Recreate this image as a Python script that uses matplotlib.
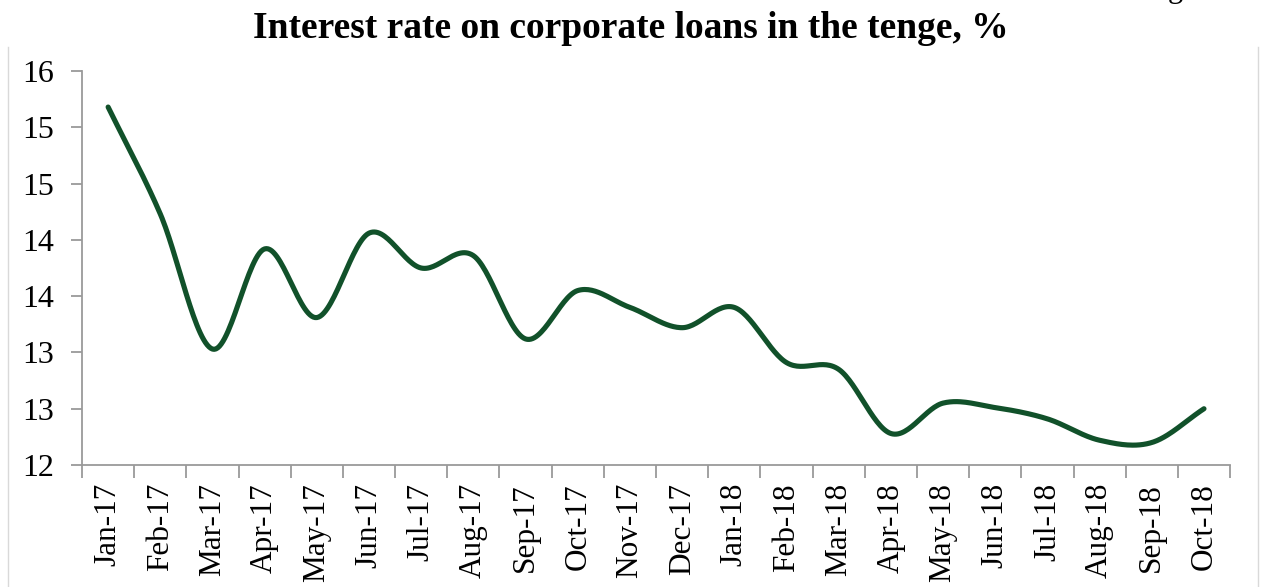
import numpy as np
import matplotlib.pyplot as plt
from matplotlib.lines import Line2D

months = ["Jan-17", "Feb-17", "Mar-17", "Apr-17", "May-17", "Jun-17", "Jul-17",
          "Aug-17", "Sep-17", "Oct-17", "Nov-17", "Dec-17", "Jan-18", "Feb-18",
          "Mar-18", "Apr-18", "May-18", "Jun-18", "Jul-18", "Aug-18", "Sep-18",
          "Oct-18"]
rates = [15.18, 14.23, 13.03, 13.92, 13.31, 14.06, 13.75, 13.86, 13.12, 13.55,
         13.40, 13.22, 13.40, 12.91, 12.85, 12.28, 12.55, 12.51, 12.41, 12.22,
         12.20, 12.50]
yticks = [12, 12.5, 13, 13.5, 14, 14.5, 15, 15.5]
ytick_labels = ["12", "13", "13", "14", "14", "15", "15", "16"]  # excel rounding

title = "Interest rate on corporate loans in the tenge, %"
line_color = "#11512a"
axis_color = "#9a9a9a"


def smooth(x, y, n=30):
    # catmull-rom, roughly what excel's "smoothed line" does
    x = np.asarray(x, float)
    y = np.asarray(y, float)
    px = np.concatenate([[2 * x[0] - x[1]], x, [2 * x[-1] - x[-2]]])
    py = np.concatenate([[2 * y[0] - y[1]], y, [2 * y[-1] - y[-2]]])
    xs, ys = [], []
    t = np.linspace(0, 1, n, endpoint=False)
    for i in range(1, len(px) - 2):
        for p, out in ((px, xs), (py, ys)):
            p0, p1, p2, p3 = p[i - 1], p[i], p[i + 1], p[i + 2]
            out.extend(0.5 * ((2 * p1) + (-p0 + p2) * t
                              + (2 * p0 - 5 * p1 + 4 * p2 - p3) * t ** 2
                              + (-p0 + 3 * p1 - 3 * p2 + p3) * t ** 3))
    xs.append(x[-1])
    ys.append(y[-1])
    return np.array(xs), np.array(ys)


plt.rcParams['font.family'] = ['Liberation Serif', 'DejaVu Serif']

fig = plt.figure(figsize=(12.62, 5.87), dpi=100)
ax = fig.add_axes([0.065, 0.2078, 0.9097, 0.6712])

x = np.arange(len(months))
sx, sy = smooth(x, rates)
ax.plot(sx, sy, color=line_color, lw=3.7, solid_capstyle='round', clip_on=False)

ax.set_xlim(-0.5, len(months) - 0.5)
ax.set_ylim(12, 15.5)

ax.set_yticks(yticks)
ax.set_yticklabels(ytick_labels, fontsize=23)
ax.set_xticks(x)
ax.set_xticklabels(months, rotation=90, fontsize=22.5)
ax.set_xticks(np.arange(-0.5, len(months)), minor=True)
ax.tick_params(axis='x', which='major', length=0, pad=13)
ax.tick_params(axis='x', which='minor', length=9, width=1.3, color=axis_color)
ax.tick_params(axis='y', length=8, width=1.3, color=axis_color, pad=12)

for s in ['top', 'right']:
    ax.spines[s].set_visible(False)
for s in ['left', 'bottom']:
    ax.spines[s].set_color(axis_color)
    ax.spines[s].set_linewidth(1.3)

fig.text(0.5, 0.952, title, ha='center', va='center', fontsize=27,
         fontweight='bold')
# descender of a cut-off line above the chart
fig.text(0.9255, 1.005, "g", ha='left', va='baseline', fontsize=22)

# chart frame edges
fig.add_artist(Line2D([0.0065, 0.0065], [0, 0.92], color='#d9d9d9', lw=1))
fig.add_artist(Line2D([0.9965, 0.9965], [0, 0.92], color='#d9d9d9', lw=1))

fig.savefig('out.png', dpi=100)
